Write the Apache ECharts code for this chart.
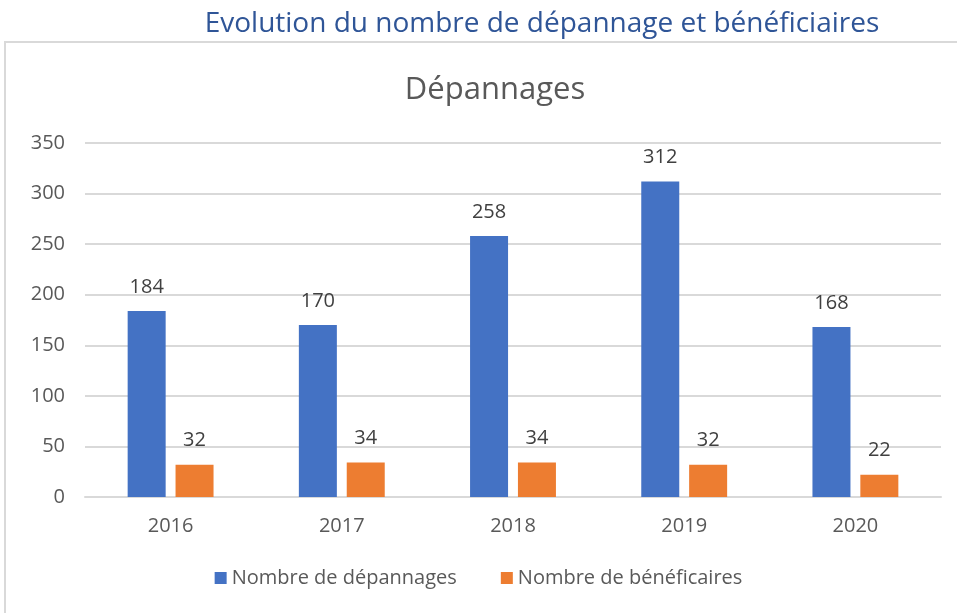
<!DOCTYPE html>
<html><head><meta charset="utf-8">
<script src="https://cdn.jsdelivr.net/npm/echarts@6/dist/echarts.min.js"></script>
<style>html,body{margin:0;padding:0;background:#fff}#c{width:957px;height:613px}</style>
</head><body><div id="c"></div>
<script>
const categories = ['2016','2017','2018','2019','2020'];
const depannages = [184,170,258,312,168];
const beneficiaires = [32,34,34,32,22];
const yTicks = {min:0,max:350,interval:50};
const FONT = 'Open Sans';
const chart = echarts.init(document.getElementById('c'));
const lbl = {show:true,position:'top',distance:14,color:'#404040',fontSize:20,fontFamily:FONT};
chart.setOption({
  animation:false,
  textStyle:{fontFamily:FONT},
  graphic:[{type:'rect',shape:{x:5,y:42,width:1000,height:700},style:{fill:'#fff',stroke:'#d9d9d9',lineWidth:2},z:-1}],
  title:[
    {text:'Evolution du nombre de dépannage et bénéficiaires',left:537,textAlign:'center',top:5,textStyle:{color:'#2F5597',fontSize:28,fontWeight:'normal',fontFamily:FONT}},
    {text:'Dépannages',left:490,textAlign:'center',top:70,textStyle:{color:'#595959',fontSize:31,fontWeight:'normal',fontFamily:FONT}}
  ],
  legend:{bottom:20,left:'center',itemWidth:12,itemHeight:12,itemGap:44,icon:'rect',textStyle:{color:'#595959',fontSize:20,fontFamily:FONT},data:['Nombre de dépannages','Nombre de bénéficaires']},
  grid:{left:85,right:16,top:143,bottom:116,containLabel:false},
  xAxis:{type:'category',data:categories,axisLine:{lineStyle:{color:'#d9d9d9',width:2}},axisTick:{show:false},axisLabel:{color:'#595959',fontSize:20,margin:19,fontFamily:FONT}},
  yAxis:{type:'value',min:yTicks.min,max:yTicks.max,interval:yTicks.interval,axisLine:{show:false},axisTick:{show:false},splitLine:{lineStyle:{color:'#d9d9d9',width:2}},axisLabel:{color:'#595959',fontSize:20,margin:20,fontFamily:FONT}},
  series:[
    {name:'Nombre de dépannages',type:'bar',data:depannages,barWidth:38,barGap:'26%',itemStyle:{color:'#4472C4'},label:lbl},
    {name:'Nombre de bénéficaires',type:'bar',data:beneficiaires,barWidth:38,itemStyle:{color:'#ED7D31'},label:lbl}
  ]
});
</script></body></html>
